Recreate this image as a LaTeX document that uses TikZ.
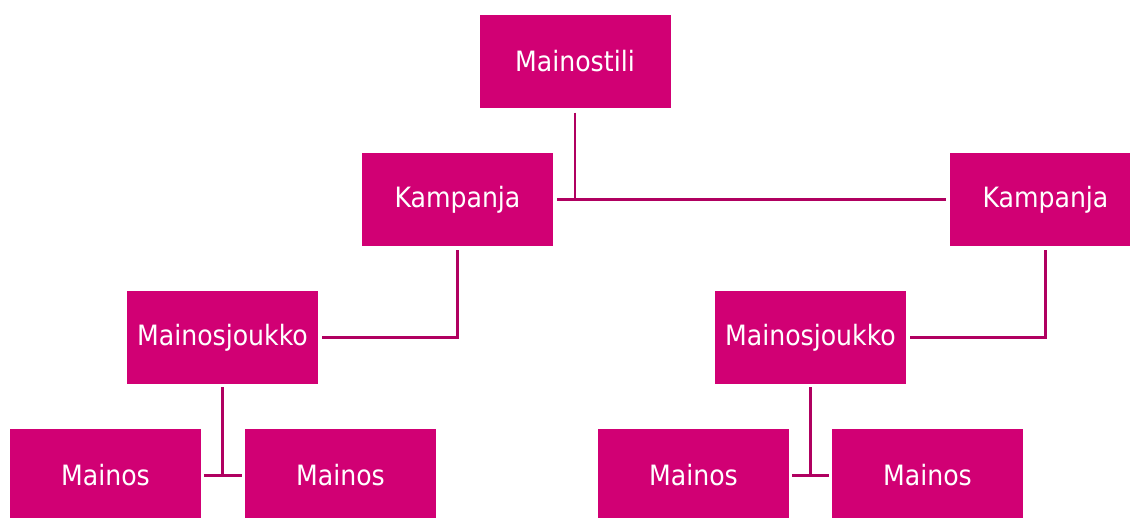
\documentclass[tikz,border=0pt]{standalone}
\usepackage{fontspec}
\setmainfont{DejaVu Sans Condensed}
\definecolor{boxfill}{RGB}{209,0,116}
\definecolor{linecol}{RGB}{176,0,96}
\begin{document}
\begin{tikzpicture}[x=1pt,y=-1pt,
  box/.style={fill=boxfill,draw=none,minimum width=191pt,minimum height=93pt,inner sep=0pt,
    text=white,font=\fontsize{28}{32}\selectfont},
  conn/.style={draw=linecol,line width=2.8pt}]
\useasboundingbox (0,0) rectangle (1130,517);
\clip (0,0) rectangle (1130,517);
\node[box] (top) at (575,61.5) {Mainostili};
\node[box] (k1) at (457.5,199.5) {Kampanja};
\node[box] (k2) at (1045.5,199.5) {Kampanja};
\node[box] (j1) at (222.5,337.5) {Mainosjoukko};
\node[box] (j2) at (810.5,337.5) {Mainosjoukko};
\node[box] (m1) at (105.5,475.5) {Mainos};
\node[box] (m2) at (340.5,475.5) {Mainos};
\node[box] (m3) at (693.5,475.5) {Mainos};
\node[box] (m4) at (927.5,475.5) {Mainos};
% top to campaigns
\draw[conn] ([yshift=-4.5pt]top.south) -- (top.south |- k1.east);
\draw[conn] ([xshift=4pt]k1.east) -- ([xshift=-4pt]k2.west);
% campaigns to ad groups
\draw[conn] ([yshift=-4pt]k1.south) |- ([xshift=4pt]j1.east);
\draw[conn] ([yshift=-4pt]k2.south) |- ([xshift=4pt]j2.east);
% ad groups to ads
\draw[conn] ([yshift=-3pt]j1.south) -- (j1.south |- m1.east);
\draw[conn] ([xshift=3pt]m1.east) -- ([xshift=-3pt]m2.west);
\draw[conn] ([yshift=-3pt]j2.south) -- (j2.south |- m3.east);
\draw[conn] ([xshift=3pt]m3.east) -- ([xshift=-3pt]m4.west);
\end{tikzpicture}
\end{document}
